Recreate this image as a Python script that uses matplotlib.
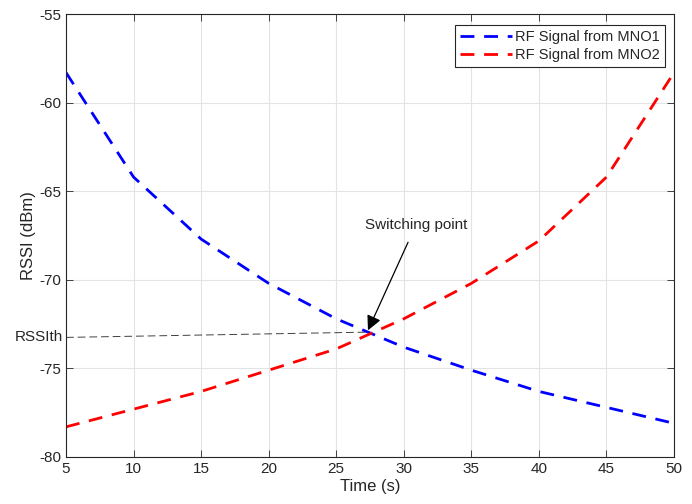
import matplotlib.pyplot as plt

plt.rcParams['font.family'] = ['Liberation Sans', 'DejaVu Sans']
plt.rcParams['axes.unicode_minus'] = False

time_s = [5, 10, 15, 20, 25, 30, 35, 40, 45, 50]
mno1_rssi = [-58.3, -64.2, -67.7, -70.2, -72.2, -73.8, -75.1, -76.3, -77.2, -78.1]
mno2_rssi = [-78.3, -77.3, -76.3, -75.1, -73.9, -72.2, -70.2, -67.8, -64.2, -58.3]

# threshold line from the left edge to the switching point
rssi_th_x = [5, 27.5]
rssi_th_y = [-73.25, -72.95]

dark = '#262626'

fig = plt.figure(figsize=(6.92, 5.04), dpi=100)
ax = fig.add_axes([0.0954, 0.0933, 0.8786, 0.8787])

ax.plot(time_s, mno1_rssi, color='blue', linestyle=(0, (5, 3.5)), linewidth=2,
        label='RF Signal from MNO1')
ax.plot(time_s, mno2_rssi, color='red', linestyle=(0, (5, 3.5)), linewidth=2,
        label='RF Signal from MNO2')
ax.plot(rssi_th_x, rssi_th_y, color='black', linestyle=(0, (8, 4)), linewidth=0.7, alpha=0.75)

ax.annotate('Switching point', xy=(27.35, -72.85), xytext=(30.9, -66.9),
            ha='center', va='center', fontsize=11, color=dark,
            arrowprops=dict(arrowstyle='-|>', color='black', lw=0.9,
                            mutation_scale=22, shrinkA=6, shrinkB=0))

ax.text(-0.005, -73.25, 'RSSIth', transform=ax.get_yaxis_transform(),
        ha='right', va='center', fontsize=11, color=dark)

ax.set_xlim(5, 50)
ax.set_ylim(-80, -55)
ax.set_xticks(range(5, 51, 5))
ax.set_yticks(range(-80, -54, 5))
ax.grid(True, color='#e3e3e3', linewidth=0.8)
ax.set_axisbelow(True)
ax.tick_params(direction='in', top=True, right=True, labelsize=11, length=5, width=0.6,
               colors=dark, labelcolor=dark)
for s in ax.spines.values():
    s.set_linewidth(0.8)
    s.set_color(dark)
ax.set_xlabel('Time (s)', fontsize=12, labelpad=2, color=dark)
ax.set_ylabel('RSSI (dBm)', fontsize=12, labelpad=2, color=dark)

leg = ax.legend(loc='upper right', fontsize=10.5, fancybox=False, framealpha=1,
                edgecolor=dark, bbox_to_anchor=(0.985, 0.975), borderaxespad=0,
                handlelength=3.6, borderpad=0.35, labelspacing=0.25, handletextpad=0.2)
leg.get_frame().set_linewidth(0.8)
for t in leg.get_texts():
    t.set_color(dark)

fig.savefig('out.png', dpi=100)
